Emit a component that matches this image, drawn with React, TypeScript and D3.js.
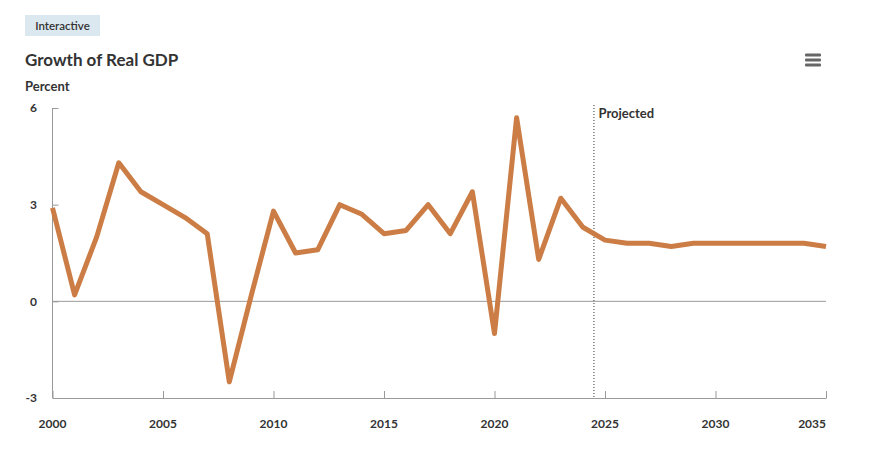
import React, { useEffect, useRef } from 'react'
import * as d3 from 'd3'

// Growth of real GDP, percent
const years = [
  2000, 2001, 2002, 2003, 2004, 2005, 2006, 2007, 2008, 2009, 2010, 2011, 2012, 2013, 2014, 2015, 2016, 2017,
  2018, 2019, 2020, 2021, 2022, 2023, 2024, 2025, 2026, 2027, 2028, 2029, 2030, 2031, 2032, 2033, 2034, 2035,
]
const growth = [
  2.9, 0.2, 2.0, 4.3, 3.4, 3.0, 2.6, 2.1, -2.5, 0.2, 2.8, 1.5, 1.6, 3.0, 2.7, 2.1, 2.2, 3.0, 2.1, 3.4, -1.0, 5.7,
  1.3, 3.2, 2.3, 1.9, 1.8, 1.8, 1.7, 1.8, 1.8, 1.8, 1.8, 1.8, 1.8, 1.7,
]
const yTicks = [-3, 0, 3, 6]
const xTicks = [2000, 2005, 2010, 2015, 2020, 2025, 2030, 2035]
const projectedFrom = 2024.5

const W = 886
const H = 460
const margin = { left: 52.5, right: 60, top: 108, bottom: 62 }
const font = 'Lato, "Noto Sans", sans-serif'
const ink = '#333'
const axisGrey = '#999'

const App = () => {
  const ref = useRef<SVGSVGElement>(null)

  useEffect(() => {
    const svg = d3.select(ref.current)
    svg.selectAll('*').remove()

    const x = d3
      .scaleLinear()
      .domain([2000, 2035])
      .range([margin.left, W - margin.right])
    const y = d3
      .scaleLinear()
      .domain([-3, 6])
      .range([H - margin.bottom, margin.top])

    // Header
    svg.append('rect').attr('x', 25).attr('y', 15).attr('width', 75).attr('height', 21).attr('fill', '#dce8f0')
    svg
      .append('text')
      .attr('x', 62.5)
      .attr('y', 29.5)
      .attr('text-anchor', 'middle')
      .style('font', `600 11.5px ${font}`)
      .style('fill', ink)
      .text('Interactive')
    svg
      .append('text')
      .attr('x', 25)
      .attr('y', 66)
      .style('font', `700 17px ${font}`)
      .style('fill', ink)
      .text('Growth of Real GDP')
    svg
      .append('text')
      .attr('x', 25)
      .attr('y', 91)
      .style('font', `700 13px ${font}`)
      .style('fill', ink)
      .text('Percent')

    // Menu icon
    const menu = svg.append('g').attr('fill', '#666')
    ;[55, 60, 65].forEach((cy) => {
      menu.append('rect').attr('x', 805).attr('y', cy - 1.5).attr('width', 16).attr('height', 3).attr('rx', 1)
    })

    // Y axis
    const yAxis = svg
      .append('g')
      .attr('transform', `translate(${margin.left}, 0)`)
      .call(d3.axisRight(y).tickValues(yTicks).tickSize(6).tickFormat(() => ''))
    yAxis.select('.domain').remove()
    yAxis.selectAll('line').style('stroke', axisGrey)
    svg
      .append('line')
      .attr('x1', margin.left)
      .attr('x2', margin.left)
      .attr('y1', y(6))
      .attr('y2', y(-3))
      .style('stroke', axisGrey)
    svg
      .append('g')
      .selectAll('text')
      .data(yTicks)
      .join('text')
      .attr('x', 37)
      .attr('y', (d) => y(d))
      .attr('dy', '0.35em')
      .attr('text-anchor', 'end')
      .style('font', `700 12px ${font}`)
      .style('fill', ink)
      .text((d) => d)

    // Zero line
    svg
      .append('line')
      .attr('x1', x(2000))
      .attr('x2', x(2035))
      .attr('y1', y(0))
      .attr('y2', y(0))
      .style('stroke', axisGrey)

    // X axis
    const xAxis = svg
      .append('g')
      .attr('transform', `translate(0, ${y(-3)})`)
      .call(d3.axisTop(x).tickValues(xTicks).tickSize(7).tickSizeOuter(0).tickFormat(() => ''))
    xAxis.selectAll('line').style('stroke', axisGrey)
    xAxis.select('.domain').style('stroke', axisGrey)
    svg
      .append('g')
      .selectAll('text')
      .data(xTicks)
      .join('text')
      .attr('x', (d) => x(d))
      .attr('y', 428)
      .attr('text-anchor', (d, i) => (i === xTicks.length - 1 ? 'end' : 'middle'))
      .style('font', `700 12px ${font}`)
      .style('fill', ink)
      .text((d) => d)

    // Projected marker
    svg
      .append('line')
      .attr('x1', x(projectedFrom))
      .attr('x2', x(projectedFrom))
      .attr('y1', 105)
      .attr('y2', y(-3))
      .style('stroke', ink)
      .style('stroke-width', 1)
      .style('stroke-dasharray', '1,2')
    svg
      .append('text')
      .attr('x', x(projectedFrom) + 4.5)
      .attr('y', 118)
      .style('font', `700 13px ${font}`)
      .style('fill', ink)
      .text('Projected')

    // Line
    const line = d3
      .line<number>()
      .x((_, i) => x(years[i]))
      .y((d) => y(d))
    svg
      .append('path')
      .datum(growth)
      .attr('d', line)
      .attr('fill', 'none')
      .style('stroke', '#cb7d45')
      .style('stroke-width', 5)
      .style('stroke-linejoin', 'round')
      .style('stroke-linecap', 'butt')
  }, [])

  return (
    <svg
      ref={ref}
      width={W}
      height={H}
      style={{ position: 'absolute', left: 0, top: 0, background: '#fff' }}
    />
  )
}

export default App
